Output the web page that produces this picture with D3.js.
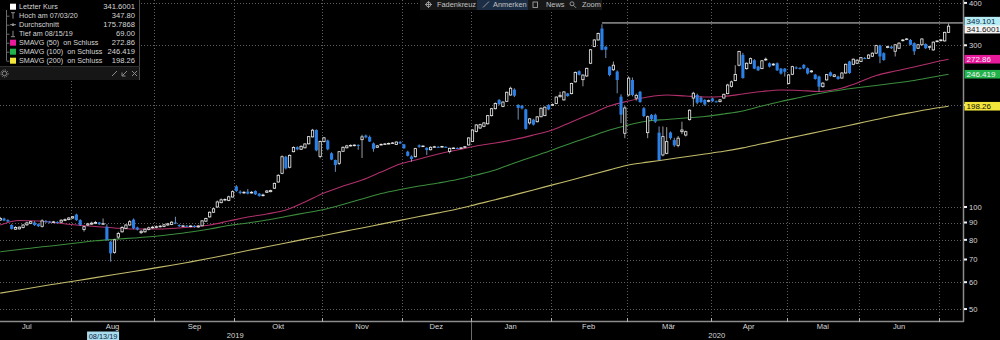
<!DOCTYPE html>
<html>
<head>
<meta charset="utf-8">
<script src="https://cdn.jsdelivr.net/npm/d3@7"></script>
<style>
  html, body { margin: 0; padding: 0; background: #000; }
  svg { display: block; font-family: "Liberation Sans", Arial, sans-serif; }
  .pre { white-space: pre; }
</style>
</head>
<body>
<svg id="chart" width="1000" height="340"></svg>
<script>
// ---- Calendar: month labels and number of trading sessions in each month ----
const monthLabels   = ["Jul", "Aug", "Sep", "Okt", "Nov", "Dez", "Jan", "Feb", "Mär", "Apr", "Mai", "Jun", "Jul"];
const monthSessions = [23, 22, 21, 23, 21, 18, 21, 20, 22, 20, 19, 21, 3];
const yearLabels    = ["2019", "2020"];
const firstSession  = 4;          // session (from 1 July 2019) of the first candle drawn

// ---- Daily prices (EUR) ----
const openPx = [
  91.5, 92.5, 91.5, 88.5, 86, 86.2, 87, 88.6, 89.5, 90,
  89, 87.7, 90.8, 90.6, 90, 90.3, 90.2, 91.3, 91.8, 92.8,
  95, 91.5, 85.8, 88.5, 89, 89.5, 90, 89, 87.4, 79,
  73.5, 81.5, 84.5, 86.5, 88.5, 91.8, 87, 84, 84.5, 85.8,
  86.8, 87, 87.5, 87.6, 88.5, 88.8, 90, 88.5, 87.8, 88,
  87.6, 88, 87.3, 88, 90.8, 93.5, 96.5, 100, 103, 105,
  104.5, 107, 115, 111, 110, 111, 110, 111.5, 109.5, 108,
  110.5, 111, 113.6, 118.5, 125.7, 140.7, 131, 145.6, 150, 148,
  149.5, 153.6, 161, 168.7, 141, 156, 157, 144, 137.6, 134.5,
  146, 149.5, 151.5, 152, 152.5, 158, 162.5, 161, 154, 150,
  152.5, 153, 153.5, 154, 153, 155.5, 153, 145.6, 141, 140.7,
  152, 151, 149.5, 147.5, 150.2, 150.5, 150.3, 150.5, 145.8, 149,
  149.3, 149, 150, 152.4, 156, 167, 171, 173, 176, 186,
  195, 207, 198, 205, 214, 222, 200, 199, 194, 177,
  181, 178.5, 184.6, 186, 200, 199.5, 202, 211.5, 207, 216.3,
  216, 234, 251.5, 237.5, 243.5, 265.5, 297.5, 311, 336, 297,
  259.5, 254, 251, 211.5, 165, 214, 237, 209.5, 218.7, 195.6,
  165.7, 187, 187, 165.7, 142.4, 144, 165.9, 157.6, 152, 166.8,
  163, 181, 209.6, 214, 210, 207, 205, 209, 205, 204.6,
  209.6, 216, 227, 236, 262, 281, 256, 265.5, 271, 259.5,
  256, 271.5, 265.5, 262.5, 265.5, 256, 256, 231.5, 246.3, 258,
  257, 262.6, 256.6, 250.5, 245.8, 242.6, 226.5, 237.1, 249.6, 242.6,
  242.6, 240.1, 248.5, 268.8, 263.6, 265.5, 268.8, 275, 274.6, 278.4,
  284.3, 299.3, 284.3, 295.5, 297.2, 288, 294, 309.5, 312, 311,
  304.4, 294, 301, 302.6, 296, 290.7, 307.5, 309.5, 309, 327.5
];
const highPx = [
  93.5, 93, 92, 89, 87.8, 87.6, 89, 90.5, 91, 90.8,
  89.5, 92, 91.5, 91, 91, 90.8, 92, 92.5, 93.4, 94,
  95.5, 92, 88, 89.8, 90.5, 91, 90.3, 92.5, 89, 79.5,
  80.5, 84.5, 87.8, 89, 91.5, 92.5, 87.5, 85.5, 86.5, 87.5,
  88, 88.2, 88.5, 89.2, 89.8, 90.8, 93.6, 89, 88.6, 88.5,
  88.4, 88.4, 88.5, 91.5, 93, 97, 99.5, 104.5, 106, 106,
  108, 112, 116, 112, 111.5, 113, 111.5, 112, 110, 109.5,
  112.2, 112.5, 118, 125, 142, 141.5, 143, 151, 151, 152,
  154, 162, 170, 169.5, 157, 161, 158, 145, 138, 146,
  151, 152.5, 153, 153, 153, 163.3, 163.5, 162.5, 155, 152.5,
  154, 154.5, 155, 155.5, 156, 156.5, 153.5, 146.5, 142, 149.5,
  153, 152, 150, 151, 151.5, 151.2, 151.5, 151, 149.5, 150,
  150, 150.2, 151.3, 160.5, 169.5, 175.5, 176, 178, 187, 196,
  203.5, 208, 205, 219, 226.5, 224, 201, 200, 195, 183,
  182, 185.5, 196.5, 198, 201, 202, 212, 218.7, 219.5, 217,
  232.5, 251, 253, 246, 257.5, 292.5, 312.5, 327, 346, 298,
  260, 268.6, 253, 215, 199, 243, 241, 216, 220, 197,
  186, 188, 188.5, 172.8, 172.8, 172, 167, 160, 162, 178.5,
  168, 194, 218.7, 216, 212, 208, 207.5, 210, 206, 208,
  216, 231, 236, 262, 289, 285, 267, 276, 273, 261,
  271.5, 276, 267, 266, 267, 257, 257, 246.5, 261, 260,
  258.5, 264, 258, 253.5, 247, 244, 233.5, 247, 251, 246.5,
  244, 250, 265, 270, 274, 273, 277, 277, 282, 286,
  301, 301, 286, 299, 298.5, 302.5, 306, 313, 315, 313,
  306, 302.5, 314.5, 304, 299, 308, 310.5, 313, 329, 347.8
];
const lowPx = [
  91, 90.8, 90.3, 85.8, 85.6, 85.8, 86.5, 88, 89, 88,
  87.3, 87, 89.8, 89.5, 89.6, 89.5, 89.8, 90.8, 91.4, 92.3,
  91, 88, 84.6, 88, 88.5, 89, 88.5, 88.7, 79.5, 69,
  72.8, 80.5, 84, 86, 88, 86, 85.3, 83.3, 84, 85.3,
  86.3, 86.5, 87, 87.2, 88, 88.4, 89, 87.3, 87.3, 87.2,
  87.1, 86.9, 86.9, 87.8, 90.5, 93, 96, 99.5, 102.5, 104,
  104, 106.8, 110.8, 109, 109.5, 109, 109.5, 108.5, 107.3, 107.5,
  110, 110.5, 113, 118, 125, 129, 130, 145, 147, 147.5,
  149, 153, 160.5, 146, 139.2, 155, 147, 137.5, 127, 133,
  145.5, 149, 150.8, 151, 147.5, 139.5, 159.5, 155.5, 145.6, 149.5,
  152, 152.5, 153, 153.5, 152.5, 153.5, 148.5, 141, 136, 140,
  149.5, 150.5, 142.4, 147, 149.8, 149.6, 149.8, 149.3, 143.9, 148.3,
  148.5, 148.5, 149.5, 152, 155.5, 166, 170, 172, 175, 185,
  194, 199.5, 197, 204, 213, 211, 181, 194, 169, 175,
  174, 177.5, 184, 185.5, 193, 198.5, 201, 210.5, 206, 211.5,
  215, 233, 244.5, 227, 242, 264, 296, 310, 290, 275,
  243, 252, 216.5, 176.7, 159.6, 212, 212, 206, 203, 184,
  159.6, 180, 177, 137, 141, 143, 158, 150.5, 150, 164,
  161.5, 180, 197.7, 201, 202.5, 199, 203.5, 204, 203.5, 203.5,
  209, 215, 225, 235, 260, 239, 254, 264, 255, 252,
  255, 270, 258, 261, 252, 246, 242.6, 230, 245, 255,
  254.5, 255, 246, 249, 237.5, 218.8, 225, 236, 242.5, 241.5,
  237.5, 239, 247.5, 247, 262, 264, 267.5, 273, 273.5, 277,
  283, 265.5, 270, 294, 292.5, 278, 292.5, 308, 310.5, 300,
  281, 292.5, 299.5, 292.5, 290.7, 289, 306, 308, 307.5, 326
];
const closePx = [
  92.5, 91.2, 90.6, 86.2, 87, 87.2, 88.5, 89.8, 90.5, 88.4,
  87.8, 91, 90.5, 90, 90.4, 90, 91.4, 91.8, 92.8, 93.6,
  91.5, 88.5, 87.5, 89.2, 89.6, 90, 89, 89.3, 80, 73,
  80, 83.5, 87, 88.5, 90.5, 86.5, 85.8, 84.8, 86, 86.8,
  87.2, 87.5, 87.8, 88.6, 89.2, 90.2, 89.5, 87.8, 88, 87.7,
  87.9, 87.3, 87.9, 91, 92.5, 96.5, 98.8, 103.5, 105, 105.3,
  107.2, 111, 111.5, 110, 110.5, 109.5, 110.5, 109, 107.8, 108.5,
  111.5, 111.8, 117.4, 124, 140.7, 130, 142, 149.8, 148, 151,
  153.5, 161.3, 168.5, 147, 156, 160, 148, 138, 133, 145.6,
  150, 151.5, 152, 152.3, 152, 161, 160.5, 156, 148.5, 151.5,
  153, 153.5, 154, 154.5, 155.5, 154, 149, 141.6, 138.5, 148.7,
  150.5, 151.3, 147.3, 150, 150.6, 150.3, 150.8, 150, 149, 149.3,
  149, 149.5, 150.6, 159.9, 168.7, 174.6, 175, 177, 186, 195,
  202, 201, 204, 218, 224, 213, 196, 195.5, 170, 182,
  175, 184.5, 195.6, 197, 194, 200.5, 211, 213.5, 218.5, 212.4,
  231.5, 249.5, 245.5, 245, 256.5, 291, 311, 325, 291, 291,
  245, 262, 237, 187.2, 196, 240, 214, 213.5, 204, 185.5,
  184.6, 181.5, 178.5, 137.6, 161.3, 155.9, 159.6, 152, 159.6, 168.7,
  166.8, 193, 216.6, 203, 204, 200.5, 206, 205, 204.5, 207,
  215, 229, 234, 246, 287.7, 240.2, 265.5, 274, 256, 253,
  270, 272.9, 259.5, 264, 253, 247.6, 250.6, 245.3, 259.5, 256.6,
  256, 256.6, 247.6, 252, 238.6, 226.5, 232, 245.8, 243.7, 245.3,
  238.5, 248.5, 263.6, 248.5, 272.9, 271, 275.7, 274.6, 280.8, 284.3,
  299.3, 278, 271.5, 297.2, 294, 301, 304.4, 311, 313.1, 301,
  288, 301, 313.1, 294, 297.2, 306.4, 308.9, 311, 327.5, 341.6001
];

// ---- Simple moving averages, one value every 5th candle plus the last candle ----
const smaCandle = d3.range(0, 250, 5).concat([249]);
const sma50 = [
  88.5, 91.2, 90.9, 89.7, 88.5, 87.6, 86.7, 86.1, 86.1, 86.4,
  87.3, 88.5, 90.9, 93.4, 95.4, 98.0, 103.5, 110.0, 115.3, 120.1,
  126.8, 133.9, 138.6, 143.3, 147.3, 151.4, 154.5, 158.2, 163.1, 168.7,
  178.2, 188.1, 198.6, 205.5, 211.1, 214.0, 212.6, 211.1, 211.9, 215.5,
  219.2, 221.4, 220.7, 219.2, 222.9, 232.2, 244.3, 251.9, 258.9, 266.9,
  272.86
];
const sma100 = [
  73.8, 74.9, 76.1, 77.1, 78.3, 79.5, 80.3, 81.0, 81.8, 83.0,
  84.4, 86.1, 88.2, 89.7, 91.5, 93.8, 96.0, 98.3, 101.7, 105.6,
  109.6, 112.6, 115.3, 117.7, 120.5, 124.3, 128.6, 134.8, 140.9, 147.3,
  154.5, 161.4, 168.7, 174.6, 179.4, 181.2, 183.1, 184.9, 188.1, 192.0,
  198.6, 204.8, 210.4, 216.2, 220.7, 224.7, 228.3, 232.2, 236.2, 241.9,
  246.419
];
const sma200 = [
  55.7, 56.9, 58.2, 59.4, 60.6, 61.9, 63.2, 64.5, 65.9, 67.3,
  68.9, 70.6, 72.4, 74.4, 76.3, 78.3, 80.4, 82.4, 84.6, 86.7,
  89.0, 91.3, 93.7, 96.1, 98.7, 101.8, 105.0, 108.6, 112.3, 116.2,
  120.2, 124.4, 128.7, 133.0, 135.6, 138.1, 140.7, 143.3, 146.0, 149.4,
  153.6, 157.9, 162.2, 166.8, 171.4, 176.2, 181.1, 186.2, 190.7, 195.3,
  198.26
];

// ---- Axis ticks, annotations, legend ----
const yTicks = [50, 60, 70, 80, 90, 100, 200, 300, 400];
const annotationLevel = 349.101;   // horizontal annotation drawn from the February top
const annotationFrom  = 158;       // candle where the annotation starts
const cursorDate  = "08/13/19";
const cursorCandle = 27;
const legendNames  = ["Letzter Kurs", "Hoch am 07/03/20", "Durchschnitt", "Tief am 08/15/19",
                      "SMAVG (50)  on Schluss", "SMAVG (100)  on Schluss", "SMAVG (200)  on Schluss"];
const legendValues = ["341.6001", "347.80", "175.7868", "69.00", "272.86", "246.419", "198.26"];
const toolbarItems = ["Fadenkreuz", "Anmerken", "News", "Zoom"];

// ---- Layout ----
const W = 1000, H = 340;
const plotRight = 963, plotBottom = 321;
const viewStart = 4.437, viewEnd = 257.3;       // visible session range
const x = d3.scaleLinear().domain([viewStart, viewEnd]).range([0, plotRight]);
const y = d3.scaleLog().domain([46.1, 408]).range([plotBottom, 0]);
const cx = k => x(firstSession + k + 0.5);

const COL = {
  up: "#e6e6e6", down: "#2a80e6", wick: "#c4c4c4",
  sma50: "#b1306c", sma100: "#3b8c3c", sma200: "#c2bb6a",
  grid: "#5e5e5e", axis: "#8c8c8c", text: "#d6d6d6"
};

// value tags on the right axis (last values of each series + annotation level);
// the two tags near the top are nudged apart so their texts stay readable
const tags = [
  { v: sma200[sma200.length - 1], t: "198.26",  bg: "#f2e63a", fg: "#111" },
  { v: sma100[sma100.length - 1], t: "246.419", bg: "#22b24b", fg: "#f4f4f4" },
  { v: sma50[sma50.length - 1],   t: "272.86",  bg: "#e8199b", fg: "#fbe6f3" },
  { v: closePx[closePx.length - 1], t: "341.6001", bg: "#f4f4f4", fg: "#111", dy: 3 },
  { v: annotationLevel, t: "349.101", bg: "#b5ecf4", fg: "#0a1f44", dy: -1.8 }
];

const svg = d3.select("#chart");
svg.append("rect").attr("width", W).attr("height", H).attr("fill", "#000");
svg.append("defs").append("clipPath").attr("id", "plotClip")
  .append("rect").attr("x", 0).attr("y", 0).attr("width", plotRight).attr("height", plotBottom);

// month boundaries in sessions
const bounds = [0];
monthSessions.forEach(n => bounds.push(bounds[bounds.length - 1] + n));
const yearBoundary = bounds[6];

// ---- Grid ----
const grid = svg.append("g").attr("stroke", COL.grid).attr("stroke-width", 1).attr("stroke-dasharray", "1,2");
grid.selectAll("line.h").data(yTicks).join("line").attr("class", "h")
  .attr("x1", 0).attr("x2", plotRight)
  .attr("y1", d => Math.round(y(d)) + 0.5).attr("y2", d => Math.round(y(d)) + 0.5);
grid.selectAll("line.v").data(bounds.slice(1, -1)).join("line").attr("class", "v")
  .attr("x1", d => Math.round(x(d)) + 0.5).attr("x2", d => Math.round(x(d)) + 0.5)
  .attr("y1", 0).attr("y2", plotBottom);

const plot = svg.append("g").attr("clip-path", "url(#plotClip)");

// ---- Moving averages ----
const smaLine = d3.line().x((d, i) => cx(smaCandle[i])).y(d => y(d)).curve(d3.curveMonotoneX);
[[sma200, COL.sma200], [sma100, COL.sma100], [sma50, COL.sma50]].forEach(([s, c]) => {
  plot.append("path").datum(s).attr("d", smaLine).attr("fill", "none")
    .attr("stroke", c).attr("stroke-width", 1.1);
});

// ---- Candles ----
const candles = closePx.map((c, k) => ({ k, o: openPx[k], h: highPx[k], l: lowPx[k], c }));
plot.append("g").selectAll("line").data(candles).join("line")
  .attr("x1", d => cx(d.k)).attr("x2", d => cx(d.k))
  .attr("y1", d => y(d.h)).attr("y2", d => y(d.l))
  .attr("stroke", d => d.c >= d.o ? COL.wick : "#8fb6e6").attr("stroke-width", 0.8);

plot.append("g").selectAll("rect").data(candles.filter(d => d.c >= d.o)).join("rect")
  .attr("x", d => cx(d.k) - 1.15).attr("width", 2.3)
  .attr("y", d => y(d.c)).attr("height", d => Math.max(y(d.o) - y(d.c), 0.6))
  .attr("fill", "#000").attr("stroke", COL.up).attr("stroke-width", 0.85);

plot.append("g").selectAll("rect").data(candles.filter(d => d.c < d.o)).join("rect")
  .attr("x", d => cx(d.k) - 1.55).attr("width", 3.1)
  .attr("y", d => y(d.o)).attr("height", d => Math.max(y(d.c) - y(d.o), 1))
  .attr("fill", COL.down);

// ---- Annotation line ----
svg.append("line")
  .attr("x1", cx(annotationFrom)).attr("x2", plotRight)
  .attr("y1", y(annotationLevel)).attr("y2", y(annotationLevel))
  .attr("stroke", "#d8d8d8").attr("stroke-width", 1);

// ---- Axes ----
svg.append("line").attr("x1", plotRight + 0.5).attr("x2", plotRight + 0.5)
  .attr("y1", 0).attr("y2", plotBottom + 1).attr("stroke", COL.axis).attr("stroke-width", 1.5);
svg.append("line").attr("x1", 0).attr("x2", plotRight + 1)
  .attr("y1", plotBottom + 0.5).attr("y2", plotBottom + 0.5).attr("stroke", COL.axis).attr("stroke-width", 1.5);

// x ticks at month boundaries
svg.append("g").selectAll("line").data(bounds.slice(1, -1)).join("line")
  .attr("x1", d => Math.round(x(d)) + 0.5).attr("x2", d => Math.round(x(d)) + 0.5)
  .attr("y1", plotBottom - 3).attr("y2", plotBottom + 1)
  .attr("stroke", "#b0b0b0").attr("stroke-width", 1);

// year separator
svg.append("line").attr("x1", Math.round(x(yearBoundary)) + 0.5).attr("x2", Math.round(x(yearBoundary)) + 0.5)
  .attr("y1", plotBottom + 1).attr("y2", H).attr("stroke", "#6a6a6a").attr("stroke-width", 1);

// month labels (months with enough sessions to hold a label)
const monthData = monthLabels.map((m, i) => ({ m, a: bounds[i], b: bounds[i + 1], n: monthSessions[i] }))
  .filter(d => d.n >= 10);
svg.append("g").selectAll("text").data(monthData).join("text")
  .attr("x", d => x((d.a + d.b) / 2)).attr("y", 329)
  .attr("text-anchor", "middle").attr("font-size", 7.6).attr("fill", COL.text)
  .text(d => d.m);

// year labels, centred on the visible part of each year
const yearSpans = [[0, x(yearBoundary)], [x(yearBoundary), plotRight]];
svg.append("g").selectAll("text").data(yearLabels).join("text")
  .attr("x", (d, i) => (yearSpans[i][0] + yearSpans[i][1]) / 2).attr("y", 338)
  .attr("text-anchor", "middle").attr("font-size", 7.6).attr("fill", COL.text)
  .text(d => d);

// cursor date tag
const cdx = cx(cursorCandle);
svg.append("rect").attr("x", cdx - 16).attr("y", 331.5).attr("width", 32).attr("height", 8.5).attr("fill", "#a9dcec");
svg.append("text").attr("x", cdx).attr("y", 338.6).attr("text-anchor", "middle")
  .attr("font-size", 7.4).attr("fill", "#0a1f44").text(cursorDate);

// y ticks; a label covered by a value tag is left out
const covered = t => tags.some(g => Math.abs(y(g.v) - y(t)) < 6);
const yAx = svg.append("g");
yAx.selectAll("rect").data(yTicks).join("rect")
  .attr("x", plotRight + 1).attr("y", d => y(d) - 1).attr("width", 3).attr("height", 2).attr("fill", "#f0f0f0");
yAx.selectAll("text").data(yTicks.filter(t => !covered(t))).join("text")
  .attr("x", plotRight + 6).attr("y", d => y(d) + 2.7)
  .attr("font-size", 7.6).attr("fill", COL.text).text(d => d);

// ---- Value tags ----
const tg = svg.append("g");
tags.forEach(d => {
  const cy = y(d.v) + (d.dy || 0);
  tg.append("rect").attr("x", plotRight + 1.5).attr("y", cy - 4.3).attr("width", W - plotRight).attr("height", 8.6).attr("fill", d.bg);
  tg.append("text").attr("x", plotRight + 3.5).attr("y", cy + 2.8).attr("font-size", 8).attr("fill", d.fg).text(d.t);
});

// ---- Legend panel ----
const lg = svg.append("g");
lg.append("rect").attr("x", 0).attr("y", 0).attr("width", 140).attr("height", 66).attr("fill", "#000");
lg.append("line").attr("x1", 139.5).attr("x2", 139.5).attr("y1", 0).attr("y2", 80).attr("stroke", "#4a4a4a");
lg.append("rect").attr("x", 0).attr("y", 66).attr("width", 139).attr("height", 14).attr("fill", "#161616");
lg.append("line").attr("x1", 0).attr("x2", 140).attr("y1", 66.5).attr("y2", 66.5).attr("stroke", "#2e2e2e");

const rowY = i => 6.7 + i * 9;
lg.append("line").attr("x1", 6.5).attr("x2", 6.5).attr("y1", 10).attr("y2", rowY(6)).attr("stroke", "#6c6c6c");
legendNames.forEach((n, i) => {
  if (i > 0) lg.append("line").attr("x1", 6.5).attr("x2", 9.5).attr("y1", rowY(i) + 0.5).attr("y2", rowY(i) + 0.5).attr("stroke", "#6c6c6c");
});
// icons
const sq = [[0, "#ffffff"], [4, "#e8199b"], [5, "#22b24b"], [6, "#f2e63a"]];
sq.forEach(([i, c]) => lg.append("rect").attr("x", 10).attr("y", rowY(i) - 3).attr("width", 6).attr("height", 6).attr("fill", c));
const ic = lg.append("g").attr("stroke", "#9a9a9a").attr("stroke-width", 0.9);
ic.append("line").attr("x1", 11).attr("x2", 15).attr("y1", rowY(1) - 3).attr("y2", rowY(1) - 3);
ic.append("line").attr("x1", 13).attr("x2", 13).attr("y1", rowY(1) - 3).attr("y2", rowY(1) + 3);
ic.append("line").attr("x1", 10).attr("x2", 16).attr("y1", rowY(2)).attr("y2", rowY(2));
ic.append("circle").attr("cx", 13).attr("cy", rowY(2)).attr("r", 1).attr("fill", "#9a9a9a");
ic.append("line").attr("x1", 13).attr("x2", 13).attr("y1", rowY(3) - 3).attr("y2", rowY(3) + 3);
ic.append("line").attr("x1", 11).attr("x2", 15).attr("y1", rowY(3) + 3).attr("y2", rowY(3) + 3);

lg.selectAll("text.n").data(legendNames).join("text").attr("class", "n pre")
  .attr("x", 19).attr("y", (d, i) => rowY(i) + 2.7)
  .attr("font-size", 7.2).attr("fill", COL.text).text(d => d);
lg.selectAll("text.v").data(legendValues).join("text").attr("class", "v")
  .attr("x", 135).attr("y", (d, i) => rowY(i) + 2.7).attr("text-anchor", "end")
  .attr("font-size", 7.6).attr("fill", COL.text).text(d => d);

// panel footer icons
const ft = lg.append("g").attr("stroke", "#8a8a8a").attr("fill", "none").attr("stroke-width", 1);
ft.append("circle").attr("cx", 4.5).attr("cy", 73.5).attr("r", 2.2);
ft.append("circle").attr("cx", 4.5).attr("cy", 73.5).attr("r", 3.6).attr("stroke-dasharray", "1.2,1.2");
ft.append("line").attr("x1", 112).attr("x2", 117).attr("y1", 76).attr("y2", 71);
ft.append("line").attr("x1", 122).attr("x2", 127).attr("y1", 76).attr("y2", 71);
ft.append("polyline").attr("points", "122,72.5 122,76 125.5,76");
ft.append("line").attr("x1", 132).attr("x2", 137).attr("y1", 71).attr("y2", 76);
ft.append("line").attr("x1", 132).attr("x2", 137).attr("y1", 76).attr("y2", 71);

// ---- Toolbar ----
const tb = svg.append("g");
tb.append("rect").attr("x", 420).attr("y", 0).attr("width", 182).attr("height", 10).attr("fill", "#171717");
tb.append("rect").attr("x", 477).attr("y", 0).attr("width", 51).attr("height", 10).attr("fill", "#1c2e46");
const tbX = [437, 493, 546, 582];
tb.selectAll("text").data(toolbarItems).join("text")
  .attr("x", (d, i) => tbX[i]).attr("y", 7.4)
  .attr("font-size", 7.4).attr("fill", "#c2c2c2").text(d => d);
const ti = tb.append("g").attr("stroke", "#a0a0a0").attr("fill", "none").attr("stroke-width", 0.9);
ti.append("circle").attr("cx", 428.5).attr("cy", 4.5).attr("r", 2.3);
ti.append("line").attr("x1", 425).attr("x2", 432).attr("y1", 4.5).attr("y2", 4.5);
ti.append("line").attr("x1", 428.5).attr("x2", 428.5).attr("y1", 1).attr("y2", 8);
ti.append("line").attr("x1", 483).attr("x2", 489).attr("y1", 7.5).attr("y2", 1.5);
ti.append("rect").attr("x", 533).attr("y", 2).attr("width", 4.5).attr("height", 5.5);
ti.append("circle").attr("cx", 572).attr("cy", 3.8).attr("r", 2);
ti.append("line").attr("x1", 573.5).attr("x2", 576).attr("y1", 5.3).attr("y2", 7.8);
</script>
</body>
</html>
